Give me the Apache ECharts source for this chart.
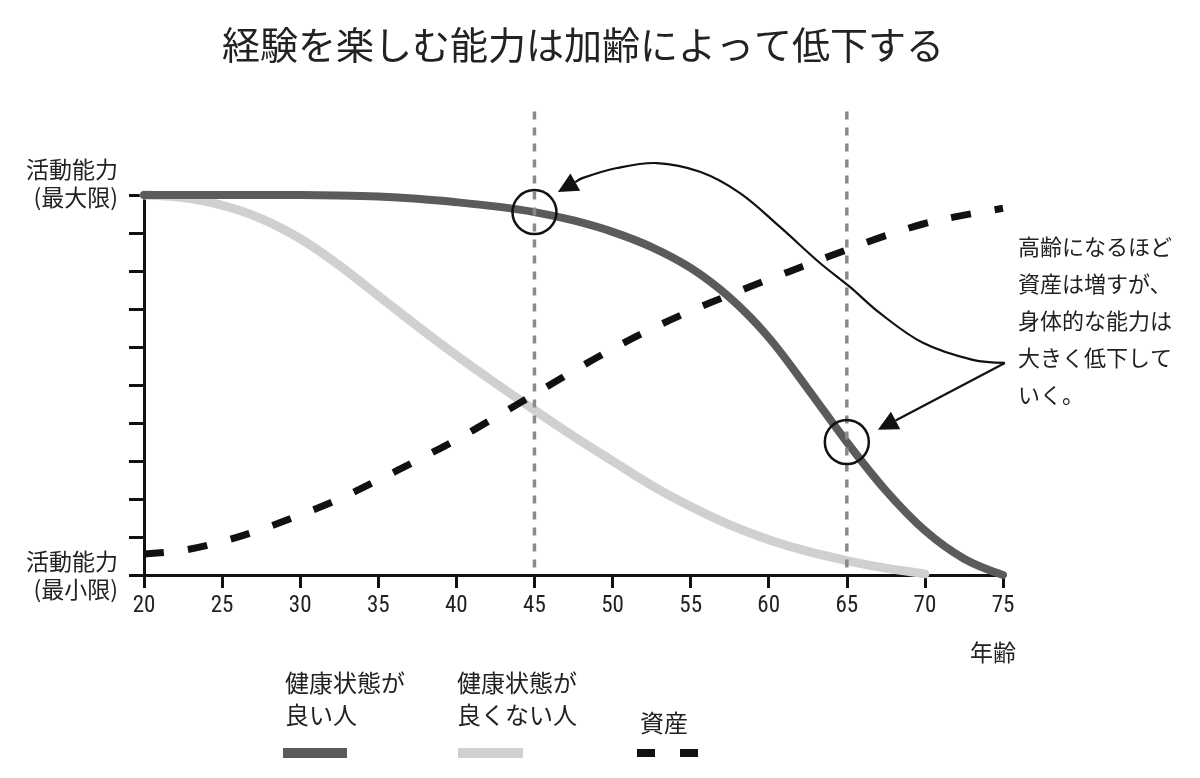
<!DOCTYPE html>
<html><head><meta charset="utf-8">
<script src="https://cdn.jsdelivr.net/npm/echarts@6/dist/echarts.min.js"></script>
<style>html,body{margin:0;padding:0;background:#fff}#c{width:1200px;height:778px}</style>
</head><body><div id="c"></div>
<script>
// ---- data ----
const ages = [20,22.5,25,27.5,30,32.5,35,37.5,40,42.5,45,47.5,50,52.5,55,57.5,60,62.5,65,67.5,70,72.5,75];
const goodHealth = [10,10,10,10,10,9.99,9.96,9.9,9.81,9.7,9.55,9.33,9.03,8.63,8.08,7.3,6.25,4.9,3.5,2.22,1.17,0.43,0];
const poorHealth = [10,9.93,9.73,9.38,8.85,8.15,7.35,6.55,5.78,5.05,4.34,3.65,3.0,2.36,1.8,1.32,0.93,0.62,0.38,0.18,0.03];
const assets = [0.55,0.65,0.88,1.2,1.58,2.0,2.5,3.02,3.56,4.15,4.76,5.37,5.95,6.48,6.95,7.37,7.78,8.17,8.56,8.93,9.25,9.47,9.65];
const xTickLabels = [20,25,30,35,40,45,50,55,60,65,70,75];
const yMinLabel = '活動能力\n(最小限)';
const yMaxLabel = '活動能力\n(最大限)';
const refLineAges = [45, 65];
const refLineTop = 12.2;
const circlePoints = [[45, 9.55], [65, 3.5]];
const upperArrowPath = [[75.12,5.58],[73.07,5.66],[69.87,6.11],[67.12,6.89],[65.2,7.58],[63.28,8.21],[60.72,9.16],[58.16,10.05],[55.6,10.61],[52.84,10.84],[50.28,10.71],[48.1,10.45],[46.5,10.08]];
const lowerArrowPath = [[75.12,5.58],[66.99,3.82]];
const noteText = '高齢になるほど\n資産は増すが、\n身体的な能力は\n大きく低下して\nいく。';
const legendGood = '健康状態が\n良い人';
const legendPoor = '健康状態が\n良くない人';
const legendAsset = '資産';

const FONT = '"Noto Sans CJK JP", "Noto Sans", sans-serif';
const pair = (xs, ys) => ys.map((v, i) => [xs[i], v]);

function arrow(api, pts, stroke) {
  const px = pts.map(p => api.coord(p));
  const tip = px[px.length - 1], prev = px[px.length - 2];
  let dx = tip[0] - prev[0], dy = tip[1] - prev[1];
  const len = Math.hypot(dx, dy); dx /= len; dy /= len;
  const L = 20, W = 10;
  const base = [tip[0] - dx * L, tip[1] - dy * L];
  const line = px.slice(0, -1).concat([base]);
  return [
    { type: 'polyline', shape: { points: line, smooth: px.length > 2 ? 0.35 : 0 },
      style: { stroke: stroke, lineWidth: 2.2, fill: null } },
    { type: 'polygon', shape: { points: [tip, [base[0] - dy * W, base[1] + dx * W], [base[0] + dy * W, base[1] - dx * W]] },
      style: { fill: stroke } }
  ];
}

const chart = echarts.init(document.getElementById('c'));
chart.setOption({
  animation: false,
  backgroundColor: '#fff',
  title: {
    text: '経験を楽しむ能力は加齢によって低下する',
    left: 222, top: 26, padding: 0,
    textStyle: { fontFamily: FONT, fontSize: 38, fontWeight: 'normal', color: '#222' }
  },
  grid: { left: 144, right: 197, top: 195, bottom: 203, outerBoundsMode: 'none' },
  xAxis: {
    type: 'value', min: xTickLabels[0], max: xTickLabels[xTickLabels.length - 1], interval: 5,
    name: '年齢', nameLocation: 'end', nameGap: -10,
    nameTextStyle: { fontFamily: FONT, fontSize: 23, color: '#222', align: 'center', verticalAlign: 'top', padding: [66, 0, 0, 0] },
    axisLine: { lineStyle: { color: '#111', width: 3 } },
    axisTick: { length: 13, lineStyle: { color: '#111', width: 3 } },
    splitLine: { show: false },
    axisLabel: { margin: 20, fontFamily: '"Liberation Sans Narrow", "Roboto Condensed", "DejaVu Sans Condensed", "DejaVu Sans Mono", monospace', fontSize: 23, color: '#222' }
  },
  yAxis: {
    type: 'value', min: 0, max: 10, interval: 1,
    axisLine: { show: true, lineStyle: { color: '#111', width: 3 } },
    axisTick: { show: true, length: 15, lineStyle: { color: '#111', width: 3 } },
    splitLine: { show: false },
    axisLabel: {
      margin: 26,
      formatter: v => {
        if (v === 10) return yMaxLabel.split('\n').map(s => '{a|' + s + '}').join('\n') + '\n{s| }';
        if (v === 0) return yMinLabel.split('\n').map(s => '{a|' + s + '}').join('\n');
        return '';
      },
      rich: {
        a: { fontFamily: FONT, fontSize: 23, lineHeight: 28, color: '#222', align: 'right' },
        s: { fontSize: 8, lineHeight: 24 }
      }
    }
  },
  graphic: [
    { type: 'text', left: 1018, top: 228, style: { text: noteText, fontFamily: FONT, fontSize: 22, lineHeight: 37, fill: '#222' } },
    { type: 'text', left: 285, top: 667, style: { text: legendGood, fontFamily: FONT, fontSize: 24, lineHeight: 32, fill: '#222' } },
    { type: 'rect', shape: { x: 283, y: 748, width: 64, height: 10 }, style: { fill: '#5b5b5b' } },
    { type: 'text', left: 457, top: 667, style: { text: legendPoor, fontFamily: FONT, fontSize: 24, lineHeight: 32, fill: '#222' } },
    { type: 'rect', shape: { x: 458, y: 748, width: 65, height: 10 }, style: { fill: '#d0d0d0' } },
    { type: 'text', left: 640, top: 707, style: { text: legendAsset, fontFamily: FONT, fontSize: 24, lineHeight: 32, fill: '#222' } },
    { type: 'rect', shape: { x: 637, y: 749, width: 18, height: 8 }, style: { fill: '#111' } },
    { type: 'rect', shape: { x: 680, y: 749, width: 18, height: 8 }, style: { fill: '#111' } }
  ],
  series: [
    { name: legendPoor, type: 'line', data: pair(ages, poorHealth), smooth: 0.35, showSymbol: false, clip: false, z: 2,
      lineStyle: { color: '#d0d0d0', width: 9, cap: 'round' } },
    { name: legendGood, type: 'line', data: pair(ages, goodHealth), smooth: 0.35, showSymbol: false, clip: false, z: 3,
      lineStyle: { color: '#5b5b5b', width: 8, cap: 'round' } },
    { name: legendAsset, type: 'line', data: pair(ages, assets), smooth: 0.35, showSymbol: false, clip: false, z: 4,
      lineStyle: { color: '#111', width: 7, type: [20, 24], cap: 'butt' } },
    { type: 'custom', clip: false, silent: true, z: 6,
      data: refLineAges.map(a => [a, refLineTop]),
      renderItem: (params, api) => {
        const x = api.value(0);
        const p0 = api.coord([x, 0]), p1 = api.coord([x, api.value(1)]);
        return { type: 'line', shape: { x1: p1[0], y1: p1[1], x2: p0[0], y2: p0[1] },
          style: { stroke: '#8a8a8a', lineWidth: 3.5, lineDash: [8, 8] } };
      } },
    { type: 'custom', clip: false, silent: true, z: 7,
      data: circlePoints,
      renderItem: (params, api) => {
        const c = api.coord([api.value(0), api.value(1)]);
        return { type: 'circle', shape: { cx: c[0], cy: c[1], r: 22 }, style: { stroke: '#111', lineWidth: 2.5, fill: null } };
      } },
    { type: 'custom', clip: false, silent: true, z: 7,
      data: [upperArrowPath[0]],
      renderItem: (params, api) => ({ type: 'group', children: arrow(api, upperArrowPath, '#111').concat(arrow(api, lowerArrowPath, '#111')) }) }
  ]
});
</script>
</body></html>
